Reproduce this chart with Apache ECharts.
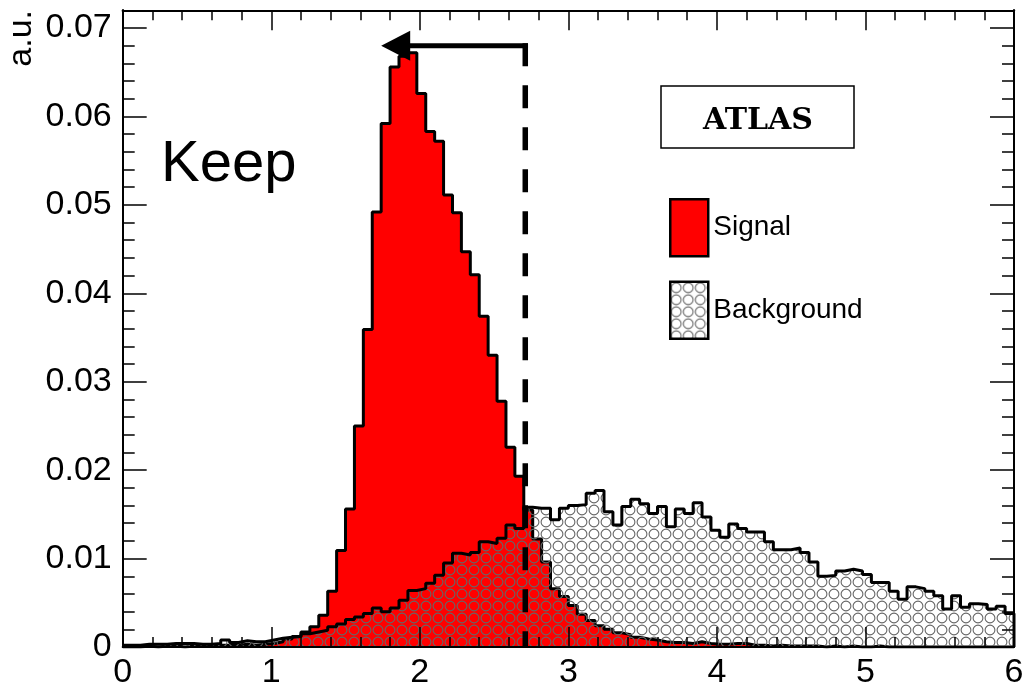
<!DOCTYPE html>
<html>
<head>
<meta charset="utf-8">
<script src="https://cdn.jsdelivr.net/npm/echarts@6/dist/echarts.min.js"></script>
<style>
  html, body { margin: 0; padding: 0; background: #ffffff; }
  #chart { width: 1026px; height: 687px; }
</style>
</head>
<body>
<div id="chart"></div>
<script>
// Histogram binning: 100 bins of width 0.06 on [0, 6]
const binWidth = 0.06;

// Normalised signal distribution (a.u.), one value per bin
const signal = [
  0.0000, 0.0000, 0.0001, 0.0000, 0.0001, 0.0001, 0.0000, 0.0001, 0.0001, 0.0001,
  0.0002, 0.0002, 0.0002, 0.0003, 0.0002, 0.0003, 0.0004, 0.0006, 0.0009, 0.0012,
  0.0017, 0.0023, 0.0036, 0.0063, 0.0109, 0.0156, 0.0250, 0.0359, 0.0492, 0.0592,
  0.0656, 0.0668, 0.0672, 0.0626, 0.0583, 0.0572, 0.0511, 0.0491, 0.0447, 0.0421,
  0.0374, 0.0330, 0.0278, 0.0226, 0.0193, 0.0155, 0.0122, 0.0096, 0.0066, 0.0057,
  0.0047, 0.0037, 0.0030, 0.0024, 0.0020, 0.0016, 0.0014, 0.0011, 0.0009, 0.0008,
  0.0006, 0.0005, 0.0005, 0.0004, 0.0006, 0.0004, 0.0003, 0.0003, 0.0004, 0.0004,
  0.0002, 0.0002, 0.0001, 0.0002, 0.0001, 0.0001, 0.0001, 0.0001, 0.0000, 0.0001,
  0.0000, 0.0001, 0.0000, 0.0000, 0.0001, 0.0000, 0.0000, 0.0000, 0.0000, 0.0000,
  0.0000, 0.0000, 0.0000, 0.0000, 0.0000, 0.0000, 0.0000, 0.0000, 0.0000, 0.0000
];

// Normalised background distribution (a.u.), one value per bin
const background = [
  0.0002, 0.0002, 0.0003, 0.0003, 0.0003, 0.0004, 0.0004, 0.0004, 0.0003, 0.0003,
  0.0004, 0.0008, 0.0005, 0.0007, 0.0006, 0.0006, 0.0008, 0.0010, 0.0011, 0.0012,
  0.0015, 0.0017, 0.0019, 0.0023, 0.0026, 0.0031, 0.0034, 0.0038, 0.0044, 0.0040,
  0.0044, 0.0053, 0.0064, 0.0066, 0.0072, 0.0081, 0.0095, 0.0106, 0.0104, 0.0107,
  0.0119, 0.0117, 0.0123, 0.0138, 0.0134, 0.0158, 0.0157, 0.0157, 0.0144, 0.0157,
  0.0160, 0.0161, 0.0174, 0.0177, 0.0153, 0.0138, 0.0159, 0.0167, 0.0162, 0.0151,
  0.0159, 0.0136, 0.0156, 0.0151, 0.0163, 0.0147, 0.0132, 0.0124, 0.0139, 0.0134,
  0.0130, 0.0130, 0.0119, 0.0110, 0.0110, 0.0112, 0.0107, 0.0096, 0.0080, 0.0081,
  0.0086, 0.0088, 0.0086, 0.0082, 0.0073, 0.0073, 0.0063, 0.0054, 0.0068, 0.0066,
  0.0063, 0.0058, 0.0043, 0.0058, 0.0045, 0.0049, 0.0048, 0.0043, 0.0046, 0.0038
];

// Selection cut and the arrow pointing to the kept region
const cutValue = 2.71;
const arrowLevel = 0.068;
const arrowTip = 1.74;

// Axis ranges and tick labels
const xRange = [0, 6];
const yRange = [0, 0.072];
const xTickLabels = ['0', '1', '2', '3', '4', '5', '6'];
const yTickLabels = ['0', '0.01', '0.02', '0.03', '0.04', '0.05', '0.06', '0.07'];

// Turn per-bin contents into step-line points at bin lower edges
function toSteps(values) {
  const pts = values.map((v, i) => [+(i * binWidth).toFixed(4), v]);
  const end = +(values.length * binWidth).toFixed(4);
  pts.push([end, values[values.length - 1]]);
  pts.push([end, 0]);
  return pts;
}

// Hollow-circle hatch used for the background fill
function circlePattern(size, r, color) {
  const c = document.createElement('canvas');
  c.width = size; c.height = size;
  const g = c.getContext('2d');
  g.strokeStyle = color;
  g.lineWidth = 1.1;
  g.beginPath();
  g.arc(size / 2, size / 2, r, 0, Math.PI * 2);
  g.stroke();
  return c;
}
const bgPattern = { image: circlePattern(12, 4.9, '#666666'), repeat: 'repeat' };

const FONT = '"Liberation Sans", Arial, Helvetica, sans-serif';
const frameLine = { show: true, onZero: false, lineStyle: { color: '#000', width: 2 } };

function xAxisDef(pos, labels) {
  return {
    type: 'value', position: pos, min: xRange[0], max: xRange[1], interval: 1,
    axisLine: frameLine,
    axisTick: { show: true, inside: true, length: 20, lineStyle: { color: '#000', width: 1.5 } },
    minorTick: { show: true, splitNumber: 5, length: 10, lineStyle: { color: '#000', width: 1.5 } },
    axisLabel: labels ? {
      show: true, color: '#000', fontSize: 34, fontFamily: FONT, margin: 9,
      formatter: v => xTickLabels[Math.round(v)]
    } : { show: false },
    splitLine: { show: false }, minorSplitLine: { show: false },
    z: 10
  };
}

function yAxisDef(pos, major, labels) {
  return {
    type: 'value', position: pos, min: yRange[0], max: yRange[1],
    interval: major ? 0.01 : 0.002,
    axisLine: frameLine,
    axisTick: { show: true, inside: true, length: major ? 24 : 12, lineStyle: { color: '#000', width: 1.5 } },
    axisLabel: labels ? {
      show: true, color: '#000', fontSize: 34, fontFamily: FONT, margin: 11,
      formatter: v => {
        const i = Math.round(v / 0.01);
        return Math.abs(v - i * 0.01) < 1e-9 ? yTickLabels[i] : '';
      }
    } : { show: false },
    splitLine: { show: false },
    z: 10
  };
}

const chart = echarts.init(document.getElementById('chart'), null, { renderer: 'canvas' });

chart.setOption({
  animation: false,
  backgroundColor: '#ffffff',
  grid: { left: 122.7, right: 12, top: 10.3, bottom: 40, containLabel: false, outerBoundsMode: 'none' },
  xAxis: [xAxisDef('bottom', true), xAxisDef('top', false)],
  yAxis: [
    yAxisDef('left', true, true),
    yAxisDef('left', false, false),
    yAxisDef('right', true, false),
    yAxisDef('right', false, false)
  ],
  legend: {
    orient: 'vertical', left: 669, top: 198,
    itemWidth: 38, itemHeight: 57, itemGap: 23, padding: 0,
    selectedMode: false,
    textStyle: { color: '#000', fontSize: 28, fontFamily: FONT },
    data: [
      { name: 'Signal', icon: 'rect', itemStyle: { color: '#ff0000', borderColor: '#000', borderWidth: 2.5 } },
      { name: 'Background', icon: 'rect', itemStyle: { color: bgPattern, borderColor: '#000', borderWidth: 2.5 } }
    ]
  },
  graphic: [
    {
      type: 'text', x: 21.5, y: 10, rotation: Math.PI / 2,
      style: { text: 'a.u.', font: '34px ' + FONT, fill: '#000', align: 'right', verticalAlign: 'middle' }
    },
    {
      type: 'text', x: 161, y: 165,
      style: { text: 'Keep', font: '58px ' + FONT, fill: '#000', align: 'left', verticalAlign: 'middle' }
    },
    {
      type: 'group', x: 661, y: 86,
      children: [
        { type: 'rect', shape: { x: 0, y: 0, width: 193, height: 62 },
          style: { fill: '#fff', stroke: '#000', lineWidth: 1.5 } },
        { type: 'text', x: 97, y: 35,
          style: { text: 'ATLAS', font: 'bold 30px "DejaVu Serif", "Courier New", serif',
                   fill: '#000', align: 'center', verticalAlign: 'middle' } }
      ]
    }
  ],
  series: [
    {
      name: 'Signal', type: 'line', xAxisIndex: 0, yAxisIndex: 0,
      step: 'end', showSymbol: false, symbol: 'none', z: 2,
      data: toSteps(signal),
      itemStyle: { color: '#ff0000' },
      lineStyle: { color: '#000', width: 3 },
      areaStyle: { color: '#ff0000', opacity: 1 },
      emphasis: { disabled: true }
    },
    {
      name: 'Background', type: 'line', xAxisIndex: 0, yAxisIndex: 0,
      step: 'end', showSymbol: false, symbol: 'none', z: 3,
      data: toSteps(background),
      itemStyle: { color: '#888' },
      lineStyle: { color: '#000', width: 3 },
      areaStyle: { color: bgPattern, opacity: 1 },
      emphasis: { disabled: true }
    },
    {
      // Dashed cut line with an arrow towards the accepted side
      name: 'cut', type: 'custom', xAxisIndex: 0, yAxisIndex: 0, z: 6,
      data: [[cutValue, arrowLevel, arrowTip]],
      encode: { x: 0, y: 1 },
      renderItem: function (params, api) {
        const top = api.coord([api.value(0), api.value(1)]);
        const bottom = api.coord([api.value(0), 0]);
        const tip = api.coord([api.value(2), api.value(1)]);
        const headLen = 29, headHalf = 15;
        return {
          type: 'group',
          children: [
            { type: 'line', shape: { x1: top[0], y1: top[1] - 2.5, x2: bottom[0], y2: bottom[1] },
              style: { stroke: '#000', lineWidth: 5.5, lineDash: [23, 19] } },
            { type: 'line', shape: { x1: top[0] + 2.75, y1: top[1], x2: tip[0] + headLen - 2, y2: tip[1] },
              style: { stroke: '#000', lineWidth: 5 } },
            { type: 'polygon', shape: { points: [[tip[0], tip[1]], [tip[0] + headLen, tip[1] - headHalf], [tip[0] + headLen, tip[1] + headHalf]] },
              style: { fill: '#000' } }
          ]
        };
      }
    }
  ]
});
</script>
</body>
</html>
